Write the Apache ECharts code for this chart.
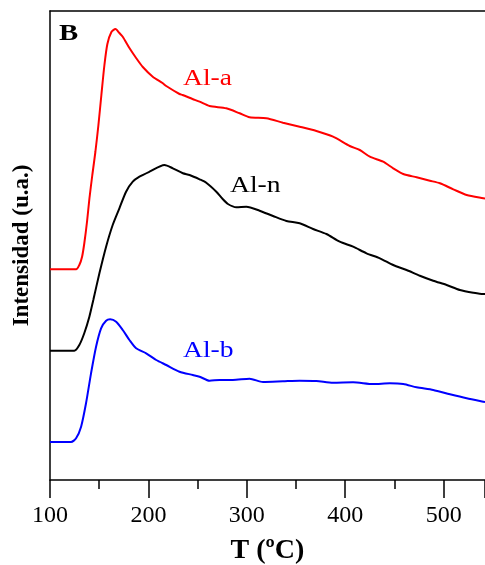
<!DOCTYPE html>
<html>
<head>
<meta charset="utf-8">
<script src="https://cdn.jsdelivr.net/npm/echarts@6/dist/echarts.min.js"></script>
<style>
html, body { margin: 0; padding: 0; background: #fff; }
#main { width: 485px; height: 565px; }
</style>
</head>
<body>
<div id="main"></div>
<script>
// TPD curves, intensity in arbitrary units
var alaT = [100,126.5,129.8,132.6,134.9,137.7,140,143,146.1,149.2,152.2,155.3,158.3,162.4,166.5,170.5,173.9,180.7,187.5,194.3,204.4,214.3,218.1,231.6,234.7,244.8,252,262.1,279.1,292.7,302.8,319.8,336.7,353.7,370.7,387.6,404.6,414.8,425,438.5,448.7,458.9,472.5,486,496.2,509.8,523.4,540.3,542];
var alaI = [210.7,210.7,215,223.3,237,259,281,305,328,355,385,415,436,448,451,447,443.3,432,422,413,403.3,397,394,386,385,381,378.3,374,371.7,366.7,362.7,361.7,357.3,353.3,349,343.3,334,330,323.3,318.3,311.7,306,302.7,299.3,296.7,290.7,285,281.7,281.5];

var alnT = [100,124.7,129.8,134.9,140,144,150.2,157,163.7,170.5,177.3,184.1,190.9,201.1,216.3,224.8,235,241.8,252,258.8,269,275.7,280.8,289.3,299.5,313,326.6,340.2,353.7,367.3,380.9,394.4,408,421.6,435.2,448.7,462.3,475.8,489.4,503,516.5,530.1,540.3,542];
var alnI = [129.3,129.3,135,147,163.3,180,206.7,233.3,255,271.7,288.3,298.3,303.3,308.3,315,311.7,306.7,305,300.7,297.3,288.3,280.7,276,272.7,273.3,269.3,264,259,256.7,251,246,238.3,233.3,226.7,221.7,215,210,204.3,199.3,195,190,187.3,186,186];

var albT = [100,121.4,126.5,131.6,136.6,141.7,146.8,151.9,157,161.1,167.2,173.9,180.7,187.5,197.7,207.9,218.1,231.6,245.1,252,262.1,272.3,285.8,302.8,316.4,336.7,353.7,370.7,387.6,408,428.3,445.3,458.9,472.5,489.4,506.4,523.4,540.3,542];
var albI = [38,38,41.7,53.3,76.7,106.7,133.3,151.7,159.3,160.7,158.3,150,140,131.7,126.7,120,115,108.3,105,103.3,99.3,100,100,101.3,98,98.7,99.3,99,97.3,97.7,96,96.7,96,92.7,90,85.7,81.7,78.3,78];

var xTicks = [100, 200, 300, 400, 500];
var seriesNames = ['Al-a', 'Al-n', 'Al-b'];
var seriesColors = ['#ff0000', '#000000', '#0000ff'];

function pairs(t, v) {
    var out = [];
    for (var i = 0; i < t.length; i++) out.push([t[i], v[i]]);
    return out;
}

var font = '"Liberation Serif", "Times New Roman", serif';
var chart = echarts.init(document.getElementById('main'));

// text in the original is a little stretched sideways
function label(txt, x, y, color, weight, size) {
    return {
        type: 'text', x: x, y: y, scaleX: 1.2,
        style: { text: txt, font: weight + ' ' + size + 'px ' + font, fill: color, verticalAlign: 'top' }
    };
}

var option = {
    animation: false,
    grid: { left: 50, right: 0, top: 11, bottom: 85, outerBoundsMode: 'none', containLabel: false },
    xAxis: [{
        type: 'value',
        min: 100,
        max: 542,
        interval: 100,
        position: 'bottom',
        name: 'T (ºC)',
        nameLocation: 'middle',
        nameGap: 57,
        nameTextStyle: { fontFamily: font, fontWeight: 'bold', fontSize: 28, color: '#000' },
        axisLine: { lineStyle: { color: '#000', width: 1.5 } },
        axisTick: { length: 18, lineStyle: { color: '#000', width: 1.5 } },
        minorTick: { show: true, splitNumber: 2, length: 9, lineStyle: { color: '#000', width: 1.5 } },
        axisLabel: {
            margin: 24, fontFamily: font, fontSize: 24, color: '#000',
            formatter: function (v) { return xTicks.indexOf(v) >= 0 ? String(v) : ''; }
        },
        splitLine: { show: false }
    }, {
        type: 'value',
        min: 100,
        max: 542,
        position: 'top',
        axisLine: { show: true, lineStyle: { color: '#000', width: 1.5 } },
        axisTick: { show: false },
        axisLabel: { show: false },
        splitLine: { show: false }
    }],
    yAxis: {
        type: 'value',
        min: 0,
        max: 469,
        name: 'Intensidad (u.a.)',
        nameLocation: 'middle',
        nameGap: 16,
        nameRotate: 90,
        nameTextStyle: { fontFamily: font, fontWeight: 'bold', fontSize: 23, color: '#000' },
        axisLine: { show: true, lineStyle: { color: '#000', width: 1.5 } },
        axisTick: { show: false },
        axisLabel: { show: false },
        splitLine: { show: false }
    },
    series: [
        { name: seriesNames[0], type: 'line', data: pairs(alaT, alaI) },
        { name: seriesNames[1], type: 'line', data: pairs(alnT, alnI) },
        { name: seriesNames[2], type: 'line', data: pairs(albT, albI) }
    ].map(function (s, i) {
        s.showSymbol = false;
        s.smooth = 0.25;
        s.lineStyle = { color: seriesColors[i], width: 2 };
        s.itemStyle = { color: seriesColors[i] };
        return s;
    }),
    graphic: [
        label('B', 59, 22, '#000', 'bold', 24),
        label(seriesNames[0], 183, 67, seriesColors[0], 'normal', 23),
        label(seriesNames[1], 230, 174, seriesColors[1], 'normal', 23),
        label(seriesNames[2], 183, 339, seriesColors[2], 'normal', 23)
    ]
};
chart.setOption(option);
</script>
</body>
</html>
